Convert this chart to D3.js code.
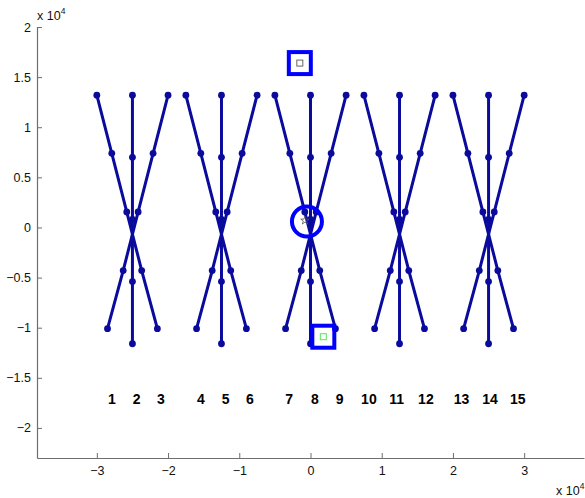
<!DOCTYPE html>
<html>
<head>
<meta charset="utf-8">
<script src="https://cdn.jsdelivr.net/npm/d3@7"></script>
<style>
  html, body { margin: 0; padding: 0; background: #fff; }
  svg { display: block; font-family: "Liberation Sans", Arial, Helvetica, sans-serif; }
</style>
</head>
<body>
<svg id="chart" width="585" height="498"></svg>
<script>
// Centres of the five crossing bundles (x, data units)
const groupCenters = [-25000, -12500, 0, 12500, 25000];

// Each bundle: three strands, given as x offsets from the centre and y values
const strandLeftDx  = [-5000, -2900, -800, 1300, 3500];
const strandLeftY   = [13200, 7400, 1550, -4300, -10100];
const strandMidDx   = [0, 0, 0, 0, 0];
const strandMidY    = [13200, 7000, 800, -5400, -11600];
const strandRightDx = [5000, 2900, 800, -1300, -3500];
const strandRightY  = [13200, 7400, 1550, -4300, -10100];

// Numbered labels beneath the bundles
const labelText = ["1","2","3","4","5","6","7","8","9","10","11","12","13","14","15"];
const labelX    = [-27900, -24400, -21000, -15400, -11900, -8500, -3000, 600, 4100,
                   8200, 12100, 16200, 21200, 25200, 29100];
const labelY    = -17100;

// Highlight markers
const circleMark  = { x: -500, y: 600 };     // ring with small star
const squareTop   = { x: -1500, y: 16400 };  // box with grey inner square
const squareBot   = { x: 1800, y: -10900 };  // box with green inner square

// Axis ticks
const xTicks = [-30000, -20000, -10000, 0, 10000, 20000, 30000];
const yTicks = [-20000, -15000, -10000, -5000, 0, 5000, 10000, 15000, 20000];

const svg = d3.select("#chart");
const x = d3.scaleLinear().domain([-38400, 38400]).range([37, 584]);
const y = d3.scaleLinear().domain([-23000, 20000]).range([458, 27]);

const lineColor = "#0a0a9c";
const markColor = "#0000ff";
const axisColor = "#6e6e6e";

const fmt = v => {
  const s = String(v / 10000);
  return s.replace("-", "\u2212");
};

// Axes
const gx = svg.append("g").attr("transform", `translate(0,${y.range()[0]})`)
  .call(d3.axisBottom(x).tickValues(xTicks).tickFormat(fmt).tickSizeInner(-5).tickSizeOuter(0).tickPadding(8));
const gy = svg.append("g").attr("transform", `translate(${x.range()[0]},0)`)
  .call(d3.axisLeft(y).tickValues(yTicks).tickFormat(fmt).tickSizeInner(-5).tickSizeOuter(0).tickPadding(6));
[gx, gy].forEach(g => {
  g.select(".domain").attr("stroke", axisColor).attr("stroke-width", 1.2);
  g.selectAll(".tick line").attr("stroke", axisColor);
  g.selectAll(".tick text").attr("fill", "#111").attr("font-size", 12.5)
    .attr("font-family", "'Liberation Sans', Arial, sans-serif");
});

// Exponent labels
function exponent(xp, yp) {
  const t = svg.append("text").attr("x", xp).attr("y", yp).attr("font-size", 12.5).attr("fill", "#111");
  t.append("tspan").text("x 10");
  t.append("tspan").attr("dy", -6).attr("font-size", 8.5).text("4");
}
exponent(37, 20);
exponent(556, 495);

// Bundles
const strands = [
  [strandLeftDx, strandLeftY],
  [strandMidDx, strandMidY],
  [strandRightDx, strandRightY]
];
const line = d3.line().x(d => x(d[0])).y(d => y(d[1]));
const plot = svg.append("g");
groupCenters.forEach(c => {
  strands.forEach(([dx, ys]) => {
    const pts = dx.map((d, i) => [c + d, ys[i]]);
    plot.append("path").attr("d", line(pts)).attr("fill", "none")
      .attr("stroke", lineColor).attr("stroke-width", 3).attr("stroke-linejoin", "round");
    plot.selectAll(null).data(pts).enter().append("circle")
      .attr("cx", d => x(d[0])).attr("cy", d => y(d[1])).attr("r", 3.4)
      .attr("fill", lineColor);
  });
});

// Ring marker with a small star
svg.append("circle").attr("cx", x(circleMark.x)).attr("cy", y(circleMark.y)).attr("r", 15)
  .attr("fill", "none").attr("stroke", markColor).attr("stroke-width", 4);
svg.append("path").attr("d", d3.symbol(d3.symbolStar, 22)())
  .attr("transform", `translate(${x(circleMark.x) - 2},${y(circleMark.y) - 1})`)
  .attr("fill", "none").attr("stroke", "#555").attr("stroke-width", 0.8);

// Square markers
function squareMark(p, innerColor) {
  svg.append("rect").attr("x", x(p.x) - 11).attr("y", y(p.y) - 11).attr("width", 22).attr("height", 22)
    .attr("fill", "none").attr("stroke", markColor).attr("stroke-width", 4);
  svg.append("rect").attr("x", x(p.x) - 3).attr("y", y(p.y) - 3).attr("width", 6).attr("height", 6)
    .attr("fill", "none").attr("stroke", innerColor).attr("stroke-width", 1);
}
squareMark(squareTop, "#666");
squareMark(squareBot, "#55e655");

// Numbered labels
svg.selectAll(null).data(labelText).enter().append("text")
  .attr("x", (d, i) => x(labelX[i])).attr("y", y(labelY))
  .attr("text-anchor", "middle").attr("dominant-baseline", "central")
  .attr("font-size", 14).attr("font-weight", "bold").attr("fill", "#000")
  .text(d => d);
</script>
</body>
</html>
